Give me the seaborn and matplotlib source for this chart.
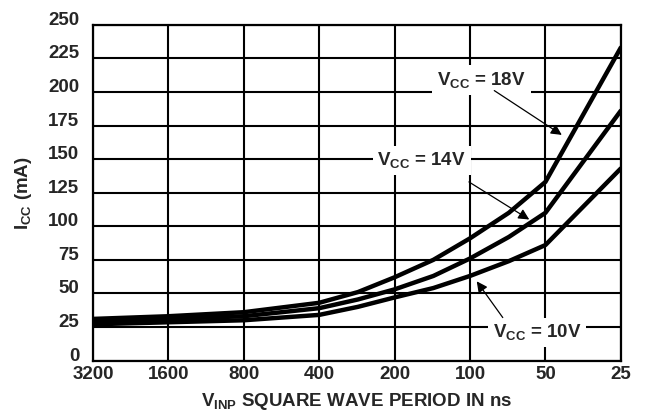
import pandas as pd
import matplotlib
matplotlib.use("Agg")
import matplotlib.pyplot as plt
import seaborn as sns

# --- data ---
period_ns = [3200, 1600, 800, 400, 280, 200, 140, 100, 70, 50, 25]
icc_18v = [31, 33, 36, 43, 51, 62, 75, 91, 110, 133, 233]
icc_14v = [29, 31, 33, 39, 45.5, 53, 63, 76, 92, 110, 186]
icc_10v = [27, 28.5, 30, 34, 40, 47, 54, 63, 74, 86, 143]
x_ticks = [3200, 1600, 800, 400, 200, 100, 50, 25]
y_ticks = [0, 25, 50, 75, 100, 125, 150, 175, 200, 225, 250]

df = pd.DataFrame({
    "period": period_ns * 3,
    "icc": icc_18v + icc_14v + icc_10v,
    "vcc": ["18V"] * len(period_ns) + ["14V"] * len(period_ns) + ["10V"] * len(period_ns),
})

sns.set_style("white")
plt.rcParams["font.family"] = ["Liberation Sans", "DejaVu Sans"]
plt.rcParams["font.weight"] = "bold"
plt.rcParams["mathtext.fontset"] = "custom"
plt.rcParams["mathtext.rm"] = "Liberation Sans:bold"
plt.rcParams["mathtext.it"] = "Liberation Sans:bold"
plt.rcParams["mathtext.bf"] = "Liberation Sans:bold"

FS = 13.5

fig = plt.figure(figsize=(6.46, 4.13), dpi=100)
ax = fig.add_axes([0.144, 0.127, 0.817, 0.813])

sns.lineplot(data=df, x="period", y="icc", hue="vcc",
             palette={"18V": "black", "14V": "black", "10V": "black"},
             linewidth=3.2, legend=False, ax=ax, zorder=3)

ax.set_xscale("log", base=2)
ax.set_xlim(3200, 25)
ax.set_ylim(0, 250)
ax.set_xticks(x_ticks)
ax.set_xticklabels([str(t) for t in x_ticks])
ax.set_yticks(y_ticks)
ax.set_yticklabels([str(t) for t in y_ticks])
ax.minorticks_off()
ax.grid(True, color="black", linewidth=1.5)
ax.tick_params(length=0, labelsize=FS)
ax.tick_params(axis="x", pad=4)
ax.tick_params(axis="y", pad=10)
for lab in ax.get_xticklabels() + ax.get_yticklabels():
    lab.set_fontweight("bold")
for lab in ax.get_yticklabels():
    lab.set_verticalalignment("baseline")
for s in ax.spines.values():
    s.set_color("black")
    s.set_linewidth(1.6)

ax.set_xlabel(r"$\mathrm{V_{INP}}$ SQUARE WAVE PERIOD IN ns", fontsize=FS,
              fontweight="bold", labelpad=6)
ax.set_ylabel(r"$\mathrm{I_{CC}}$ (mA)", fontsize=FS, fontweight="bold", labelpad=10)

box = dict(boxstyle="square,pad=0.25", facecolor="white", edgecolor="none")
arrow = dict(arrowstyle="-|>", color="black", lw=0.9, mutation_scale=16,
             shrinkA=0, shrinkB=0)

# labels
ax.text(90, 209, r"$\mathrm{V_{CC}}$ = 18V", fontsize=FS, fontweight="bold",
        ha="center", va="center", bbox=box, zorder=5)
ax.text(156, 149, r"$\mathrm{V_{CC}}$ = 14V", fontsize=FS, fontweight="bold",
        ha="center", va="center", bbox=box, zorder=5)
ax.text(54, 21, r"$\mathrm{V_{CC}}$ = 10V", fontsize=FS, fontweight="bold",
        ha="center", va="center", bbox=box, zorder=5)

# pointer arrows
ax.annotate("", xy=(43, 168), xytext=(80, 201), arrowprops=arrow, zorder=6)
ax.annotate("", xy=(58, 105), xytext=(101, 133), arrowprops=arrow, zorder=6)
ax.annotate("", xy=(94, 59), xytext=(74, 32), arrowprops=arrow, zorder=6)

fig.savefig("out.png", dpi=100)
